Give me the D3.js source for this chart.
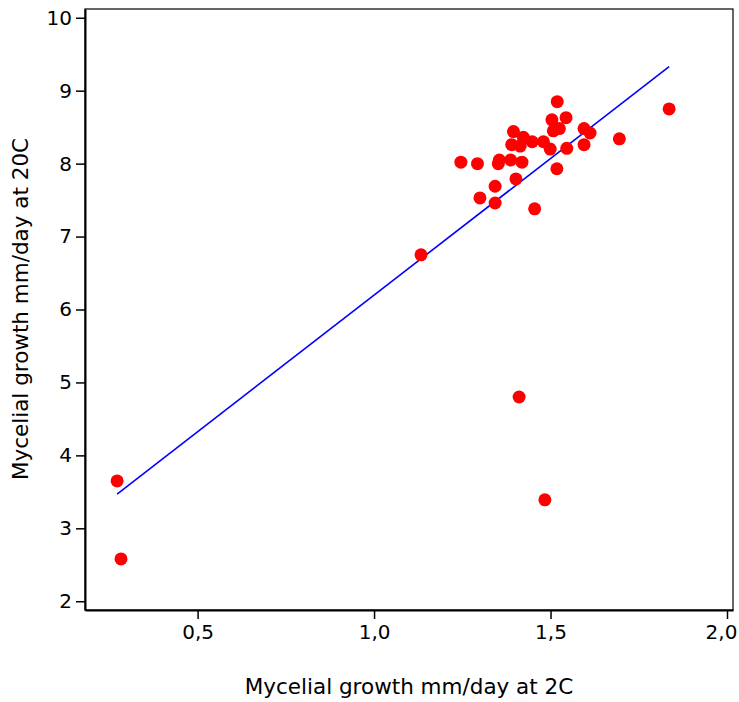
<!DOCTYPE html>
<html>
<head>
<meta charset="utf-8">
<script src="https://cdn.jsdelivr.net/npm/d3@7"></script>
<style>
  body { margin: 0; background: #fff; }
  text { font-family: "DejaVu Sans", Verdana, sans-serif; fill: #000; }
</style>
</head>
<body>
<svg></svg>
<script>
// growth at 2C (x) and 20C (y), mm/day
const growth2C = [0.272, 0.283, 1.133, 1.411, 1.484, 1.836, 1.695, 1.246, 1.293, 1.352,
  1.355, 1.343, 1.300, 1.343, 1.402, 1.455, 1.518, 1.387, 1.419, 1.390,
  1.414, 1.395, 1.423, 1.448, 1.480, 1.499, 1.504, 1.519, 1.544, 1.508,
  1.525, 1.546, 1.595, 1.612, 1.595];
const growth20C = [3.65, 2.58, 6.75, 4.80, 3.39, 8.75, 8.34, 8.02, 8.00, 8.00,
  8.05, 7.69, 7.53, 7.46, 7.79, 7.38, 7.93, 8.05, 8.02, 8.26,
  8.24, 8.44, 8.36, 8.30, 8.30, 8.20, 8.60, 8.85, 8.63, 8.45,
  8.48, 8.21, 8.48, 8.42, 8.26];

// fitted line
const fitSlope = 3.747;
const fitIntercept = 2.45;

const xTicks = [0.5, 1.0, 1.5, 2.0];
const yTicks = [2, 3, 4, 5, 6, 7, 8, 9, 10];

const width = 739, height = 702;
const margin = { top: 9, right: 6, bottom: 92, left: 85 };

const svg = d3.select("svg").attr("width", width).attr("height", height);

const x = d3.scaleLinear()
  .domain([0.181, 2.017])
  .range([margin.left, width - margin.right]);

const y = d3.scaleLinear()
  .domain([1.88, 10.12])
  .range([height - margin.bottom, margin.top]);

const comma = d3.formatLocale({ decimal: ",", thousands: ".", grouping: [3], currency: ["", ""] }).format(".1f");

// frame on top and right
svg.append("rect")
  .attr("x", margin.left)
  .attr("y", margin.top)
  .attr("width", width - margin.right - margin.left)
  .attr("height", height - margin.bottom - margin.top)
  .attr("fill", "none")
  .attr("stroke", "#000")
  .attr("stroke-width", 1.2);

const xAxis = svg.append("g")
  .attr("transform", `translate(0,${height - margin.bottom})`)
  .call(d3.axisBottom(x).tickValues(xTicks).tickFormat(comma).tickSize(9).tickSizeOuter(0).tickPadding(6));

const yAxis = svg.append("g")
  .attr("transform", `translate(${margin.left},0)`)
  .call(d3.axisLeft(y).tickValues(yTicks).tickSize(9).tickSizeOuter(0).tickPadding(4));

[xAxis, yAxis].forEach(function (g) {
  g.select(".domain").attr("stroke-width", 2);
  g.selectAll(".tick line").attr("stroke-width", 1.5);
  g.selectAll(".tick text")
    .style("font-family", "'DejaVu Sans', Verdana, sans-serif")
    .style("font-size", "20px");
});
// last x label is pulled in so it stays on the page
xAxis.selectAll(".tick text").filter(function (d) { return d === 2.0; }).attr("dx", -6);

// regression line over the x range of the data
const xExt = d3.extent(growth2C);
svg.append("line")
  .attr("x1", x(xExt[0]))
  .attr("y1", y(fitIntercept + fitSlope * xExt[0]))
  .attr("x2", x(xExt[1]))
  .attr("y2", y(fitIntercept + fitSlope * xExt[1]))
  .attr("stroke", "#0000ff")
  .attr("stroke-width", 1.6);

svg.selectAll(".pt")
  .data(growth2C)
  .enter()
  .append("circle")
  .attr("class", "pt")
  .attr("cx", function (d) { return x(d); })
  .attr("cy", function (d, i) { return y(growth20C[i]); })
  .attr("r", 6.5)
  .attr("fill", "#ff0000");

svg.append("text")
  .attr("x", (margin.left + width - margin.right) / 2)
  .attr("y", 694)
  .attr("text-anchor", "middle")
  .style("font-size", "21.5px")
  .text("Mycelial growth mm/day at 2C");

svg.append("text")
  .attr("transform", "translate(28,309) rotate(-90)")
  .attr("text-anchor", "middle")
  .style("font-size", "21.5px")
  .text("Mycelial growth mm/day at 20C");
</script>
</body>
</html>
